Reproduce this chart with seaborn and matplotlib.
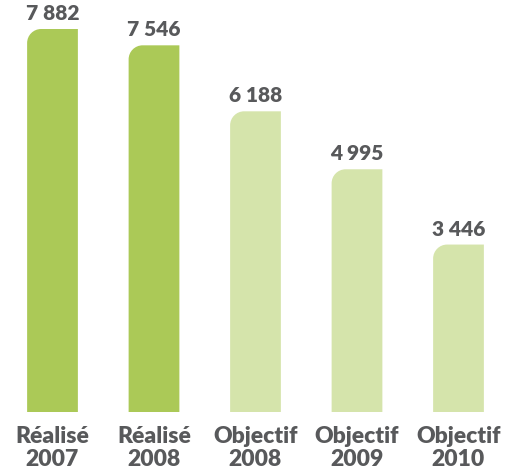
import matplotlib
matplotlib.use("Agg")
import matplotlib.pyplot as plt
import seaborn as sns
import pandas as pd
from matplotlib.path import Path
from matplotlib.patches import PathPatch

categories = ["Réalisé\n2007", "Réalisé\n2008", "Objectif\n2008", "Objectif\n2009", "Objectif\n2010"]
values = [7882, 7546, 6188, 4995, 3446]
value_labels = ["7 882", "7 546", "6 188", "4 995", "3 446"]
colors = ["#abc957", "#abc957", "#d5e4ab", "#d5e4ab", "#d5e4ab"]

sns.set_theme(style="white")
plt.rcParams['font.family'] = ['Lato', 'DejaVu Sans']
TEXT = "#58595b"

W, H = 505, 473
fig = plt.figure(figsize=(W / 100, H / 100), dpi=100)
bottom_px = 412
ax = fig.add_axes([0, (H - bottom_px) / H, 1, bottom_px / H])

df = pd.DataFrame({"cat": categories, "val": values})
sns.barplot(data=df, x="cat", y="val", hue="cat", palette=colors, legend=False,
            width=0.5, ax=ax, saturation=1)

spacing_px = 101.5
x_left = (0 - 52.5) / spacing_px
x_right = (W - 52.5) / spacing_px
ax.set_xlim(x_left, x_right)
units_per_px = 7882 / (bottom_px - 29)
ax.set_ylim(0, bottom_px * units_per_px)

# rounded top-left corner
r_px = 14
rx = r_px / spacing_px
ry = r_px * units_per_px
k = 0.5523
for p in list(ax.patches):
    x0 = p.get_x(); w = p.get_width(); h = p.get_height(); fc = p.get_facecolor()
    x1 = x0 + w
    verts = [(x0, 0), (x0, h - ry), (x0, h - ry + k * ry), (x0 + rx - k * rx, h), (x0 + rx, h),
             (x1, h), (x1, 0), (x0, 0)]
    codes = [Path.MOVETO, Path.LINETO, Path.CURVE4, Path.CURVE4, Path.CURVE4,
             Path.LINETO, Path.LINETO, Path.CLOSEPOLY]
    ax.add_patch(PathPatch(Path(verts, codes), facecolor=fc, edgecolor="none", lw=0))
    p.remove()

for i, (v, lab) in enumerate(zip(values, value_labels)):
    ax.annotate(lab, (i, v), xytext=(0, 6), textcoords="offset pixels",
                ha="center", va="bottom", fontsize=15, fontweight="heavy", color=TEXT)

ax.set_xlabel("")
ax.set_ylabel("")
ax.set_yticks([])
ax.set_xticks(range(len(categories)))
ax.set_xticklabels(categories, fontsize=16.5, fontweight="heavy", color=TEXT, linespacing=1.1)
ax.tick_params(axis="x", length=0, pad=10)
for s in ax.spines.values():
    s.set_visible(False)
ax.patch.set_alpha(0)

fig.savefig("out.png", dpi=100)
